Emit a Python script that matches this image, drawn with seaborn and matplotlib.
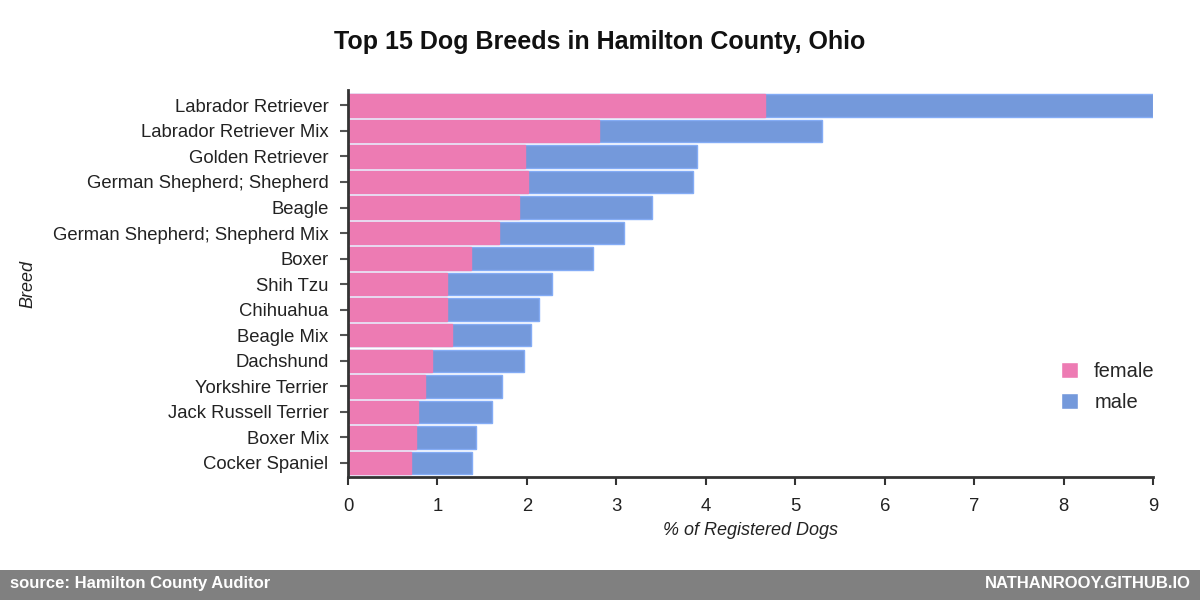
import numpy as np
import pandas as pd
import matplotlib
matplotlib.use("Agg")
import matplotlib.pyplot as plt
from matplotlib.patches import Patch
import seaborn as sns

# Breeds, top to bottom
breeds = ["Labrador Retriever", "Labrador Retriever Mix", "Golden Retriever",
          "German Shepherd; Shepherd", "Beagle", "German Shepherd; Shepherd Mix",
          "Boxer", "Shih Tzu", "Chihuahua", "Beagle Mix", "Dachshund",
          "Yorkshire Terrier", "Jack Russell Terrier", "Boxer Mix", "Cocker Spaniel"]
# % of registered dogs, by sex
female = [4.66, 2.80, 1.98, 2.01, 1.91, 1.69, 1.37, 1.11, 1.11, 1.16, 0.94, 0.86, 0.78, 0.76, 0.70]
male = [4.34, 2.50, 1.92, 1.85, 1.49, 1.39, 1.37, 1.17, 1.03, 0.88, 1.03, 0.86, 0.83, 0.67, 0.69]
x_ticks = [0, 1, 2, 3, 4, 5, 6, 7, 8, 9]

female_col = "#ed7bb3"
male_col = "#7499db"

df = pd.DataFrame({"breed": breeds, "female": female, "male": male})
df["total"] = df["female"] + df["male"]

sns.set_style("white")
plt.rcParams["font.family"] = ["Liberation Sans", "DejaVu Sans"]

fig = plt.figure(figsize=(12, 6), dpi=100)
ax = fig.add_axes([0.29, 0.205, 0.671, 0.645])

# stacked bars: total in male colour, female drawn over it
sns.barplot(data=df, x="total", y="breed", orient="h", color=male_col,
            saturation=1, width=0.88, edgecolor="#84acf5", linewidth=1, ax=ax)
sns.barplot(data=df, x="female", y="breed", orient="h", color=female_col,
            saturation=1, width=0.88, edgecolor=female_col, linewidth=1, ax=ax)

ax.set_xlim(0, 9)
ax.set_ylim(len(breeds) - 0.5 + 0.05, -0.6)
ax.set_xticks(x_ticks)
ax.set_xticklabels([str(t) for t in x_ticks])
ax.set_xlabel("% of Registered Dogs", fontsize=13, style="italic", color="#222222", labelpad=5)
ax.set_ylabel("Breed", fontsize=13, style="italic", color="#222222", labelpad=12)
ax.tick_params(axis="both", labelsize=13.3, colors="#222222", length=6, width=1.5,
               direction="out", left=True, bottom=True)
ax.tick_params(axis="y", pad=8, color="#555555")
ax.tick_params(axis="x", pad=9, color="#333333")

for side in ["top", "right"]:
    ax.spines[side].set_visible(False)
for side in ["left", "bottom"]:
    ax.spines[side].set_linewidth(2)
    ax.spines[side].set_color("#333333")

handles = [Patch(facecolor=female_col, label="female"), Patch(facecolor=male_col, label="male")]
ax.legend(handles=handles, loc="center left", bbox_to_anchor=(0.863, 0.232), frameon=False,
          fontsize=14.5, handlelength=0.85, handleheight=0.85, handletextpad=0.8, labelspacing=0.6)

fig.text(0.5, 0.93, "Top 15 Dog Breeds in Hamilton County, Ohio", ha="center", va="center",
         fontsize=18, fontweight="bold", color="#111111")

# footer band
fig.patches.append(plt.Rectangle((0, 0), 1, 0.05, transform=fig.transFigure,
                                 facecolor="#808080", edgecolor="none"))
fig.text(0.008, 0.027, "source: Hamilton County Auditor", ha="left", va="center",
         fontsize=12, fontweight="bold", color="white")
fig.text(0.992, 0.027, "NATHANROOY.GITHUB.IO", ha="right", va="center",
         fontsize=12, fontweight="bold", color="white")

fig.savefig("out.png", dpi=100, facecolor="white")
